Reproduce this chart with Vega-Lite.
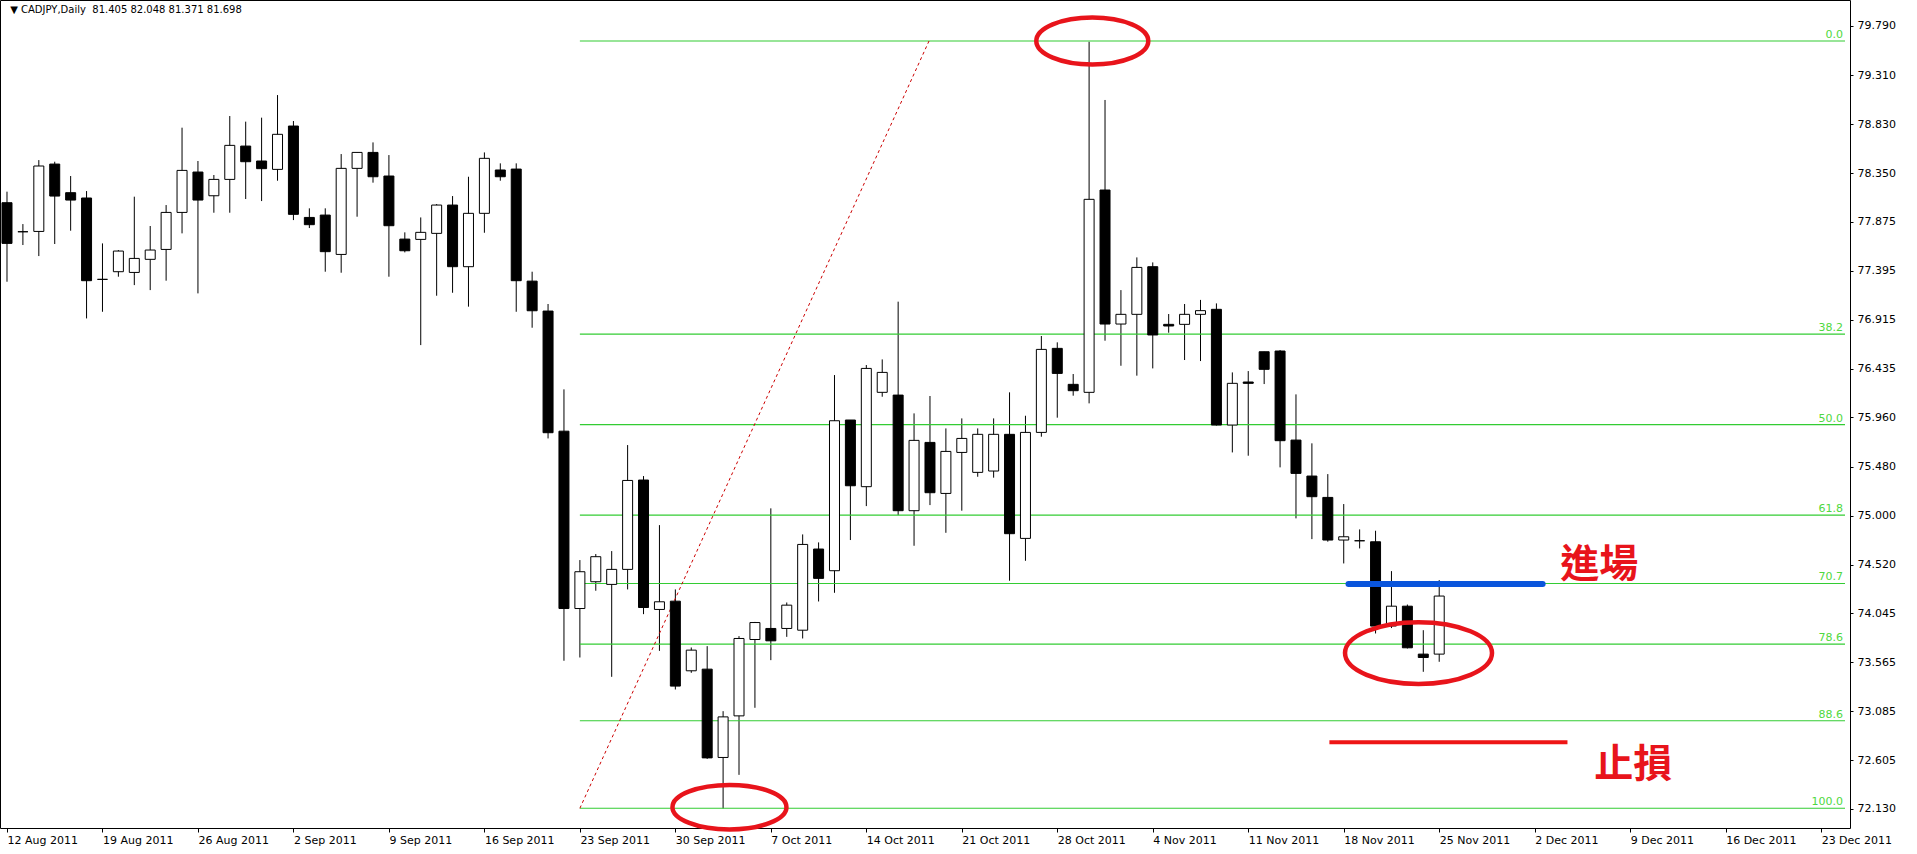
{
  "$schema": "https://vega.github.io/schema/vega-lite/v6.json",
  "width": 1850,
  "height": 828,
  "autosize": {"type": "none"},
  "padding": {"left": 0, "top": 0, "right": 67, "bottom": 26},
  "background": "white",
  "config": {
    "view": {"stroke": "black", "strokeWidth": 1},
    "font": "DejaVu Sans",
    "axis": {"grid": false, "domain": false, "tickColor": "black", "labelColor": "black", "labelFont": "DejaVu Sans", "labelFontSize": 11, "labelOverlap": false, "labelFlush": false}
  },
  "datasets": {
    "candles": [
      {"d":"2011-08-12","o":78.061,"h":78.169,"l":77.288,"c":77.663},
      {"d":"2011-08-14","o":77.777,"h":77.852,"l":77.647,"c":77.777},
      {"d":"2011-08-15","o":77.780,"h":78.478,"l":77.539,"c":78.420},
      {"d":"2011-08-16","o":78.439,"h":78.462,"l":77.657,"c":78.126},
      {"d":"2011-08-17","o":78.159,"h":78.322,"l":77.787,"c":78.087},
      {"d":"2011-08-18","o":78.107,"h":78.175,"l":76.929,"c":77.298},
      {"d":"2011-08-19","o":77.311,"h":77.663,"l":76.994,"c":77.311},
      {"d":"2011-08-21","o":77.386,"h":77.598,"l":77.337,"c":77.588},
      {"d":"2011-08-22","o":77.379,"h":78.120,"l":77.255,"c":77.516},
      {"d":"2011-08-23","o":77.507,"h":77.833,"l":77.206,"c":77.598},
      {"d":"2011-08-24","o":77.604,"h":78.038,"l":77.298,"c":77.966},
      {"d":"2011-08-25","o":77.966,"h":78.795,"l":77.761,"c":78.377},
      {"d":"2011-08-26","o":78.361,"h":78.469,"l":77.174,"c":78.087},
      {"d":"2011-08-28","o":78.129,"h":78.332,"l":77.963,"c":78.289},
      {"d":"2011-08-29","o":78.289,"h":78.909,"l":77.963,"c":78.622},
      {"d":"2011-08-30","o":78.615,"h":78.854,"l":78.097,"c":78.462},
      {"d":"2011-08-31","o":78.469,"h":78.893,"l":78.077,"c":78.394},
      {"d":"2011-09-01","o":78.387,"h":79.114,"l":78.276,"c":78.730},
      {"d":"2011-09-02","o":78.811,"h":78.860,"l":77.891,"c":77.947},
      {"d":"2011-09-04","o":77.917,"h":78.006,"l":77.813,"c":77.846},
      {"d":"2011-09-05","o":77.940,"h":78.006,"l":77.386,"c":77.582},
      {"d":"2011-09-06","o":77.555,"h":78.537,"l":77.376,"c":78.397},
      {"d":"2011-09-07","o":78.397,"h":78.553,"l":77.924,"c":78.553},
      {"d":"2011-09-08","o":78.553,"h":78.651,"l":78.257,"c":78.315},
      {"d":"2011-09-09","o":78.322,"h":78.527,"l":77.337,"c":77.836},
      {"d":"2011-09-11","o":77.705,"h":77.771,"l":77.575,"c":77.591},
      {"d":"2011-09-12","o":77.702,"h":77.917,"l":76.668,"c":77.771},
      {"d":"2011-09-13","o":77.761,"h":78.048,"l":77.151,"c":78.038},
      {"d":"2011-09-14","o":78.038,"h":78.126,"l":77.180,"c":77.435},
      {"d":"2011-09-15","o":77.435,"h":78.315,"l":77.044,"c":77.957},
      {"d":"2011-09-16","o":77.957,"h":78.553,"l":77.767,"c":78.495},
      {"d":"2011-09-18","o":78.381,"h":78.446,"l":78.276,"c":78.315},
      {"d":"2011-09-19","o":78.390,"h":78.446,"l":76.994,"c":77.298},
      {"d":"2011-09-20","o":77.294,"h":77.386,"l":76.838,"c":77.004},
      {"d":"2011-09-21","o":77.001,"h":77.070,"l":75.755,"c":75.811},
      {"d":"2011-09-22","o":75.826,"h":76.235,"l":73.580,"c":74.091},
      {"d":"2011-09-23","o":74.091,"h":74.565,"l":73.612,"c":74.451},
      {"d":"2011-09-25","o":74.353,"h":74.624,"l":74.265,"c":74.598},
      {"d":"2011-09-26","o":74.327,"h":74.653,"l":73.423,"c":74.474},
      {"d":"2011-09-27","o":74.474,"h":75.690,"l":74.278,"c":75.344},
      {"d":"2011-09-28","o":75.348,"h":75.387,"l":74.036,"c":74.101},
      {"d":"2011-09-29","o":74.082,"h":74.907,"l":73.677,"c":74.157},
      {"d":"2011-09-30","o":74.163,"h":74.278,"l":73.299,"c":73.332},
      {"d":"2011-10-02","o":73.482,"h":73.710,"l":73.462,"c":73.684},
      {"d":"2011-10-03","o":73.498,"h":73.723,"l":72.620,"c":72.630},
      {"d":"2011-10-04","o":72.634,"h":73.087,"l":72.135,"c":73.031},
      {"d":"2011-10-05","o":73.041,"h":73.821,"l":72.464,"c":73.798},
      {"d":"2011-10-06","o":73.788,"h":73.960,"l":73.120,"c":73.954},
      {"d":"2011-10-07","o":73.896,"h":75.071,"l":73.586,"c":73.775},
      {"d":"2011-10-09","o":73.896,"h":74.150,"l":73.814,"c":74.124},
      {"d":"2011-10-10","o":73.879,"h":74.816,"l":73.798,"c":74.718},
      {"d":"2011-10-11","o":74.673,"h":74.738,"l":74.160,"c":74.386},
      {"d":"2011-10-12","o":74.461,"h":76.375,"l":74.245,"c":75.928},
      {"d":"2011-10-13","o":75.935,"h":75.935,"l":74.761,"c":75.292},
      {"d":"2011-10-14","o":75.283,"h":76.473,"l":75.093,"c":76.440},
      {"d":"2011-10-16","o":76.206,"h":76.528,"l":76.163,"c":76.401},
      {"d":"2011-10-17","o":76.179,"h":77.093,"l":75.005,"c":75.048},
      {"d":"2011-10-18","o":75.048,"h":76.000,"l":74.705,"c":75.736},
      {"d":"2011-10-19","o":75.716,"h":76.170,"l":75.103,"c":75.224},
      {"d":"2011-10-20","o":75.217,"h":75.853,"l":74.832,"c":75.628},
      {"d":"2011-10-21","o":75.618,"h":75.951,"l":75.048,"c":75.755},
      {"d":"2011-10-23","o":75.423,"h":75.853,"l":75.380,"c":75.795},
      {"d":"2011-10-24","o":75.436,"h":75.951,"l":75.371,"c":75.795},
      {"d":"2011-10-25","o":75.795,"h":76.206,"l":74.363,"c":74.823},
      {"d":"2011-10-26","o":74.777,"h":75.977,"l":74.558,"c":75.814},
      {"d":"2011-10-27","o":75.814,"h":76.757,"l":75.772,"c":76.626},
      {"d":"2011-10-28","o":76.636,"h":76.695,"l":75.958,"c":76.391},
      {"d":"2011-10-30","o":76.284,"h":76.385,"l":76.173,"c":76.222},
      {"d":"2011-10-31","o":76.206,"h":79.636,"l":76.098,"c":78.094},
      {"d":"2011-11-01","o":78.185,"h":79.066,"l":76.711,"c":76.874},
      {"d":"2011-11-02","o":76.874,"h":77.206,"l":76.466,"c":76.969},
      {"d":"2011-11-03","o":76.969,"h":77.526,"l":76.369,"c":77.428},
      {"d":"2011-11-04","o":77.435,"h":77.477,"l":76.440,"c":76.767},
      {"d":"2011-11-06","o":76.871,"h":76.972,"l":76.789,"c":76.855},
      {"d":"2011-11-07","o":76.871,"h":77.070,"l":76.522,"c":76.969},
      {"d":"2011-11-08","o":76.969,"h":77.110,"l":76.512,"c":77.005},
      {"d":"2011-11-09","o":77.018,"h":77.076,"l":75.880,"c":75.886},
      {"d":"2011-11-10","o":75.886,"h":76.401,"l":75.618,"c":76.294},
      {"d":"2011-11-11","o":76.307,"h":76.414,"l":75.586,"c":76.294},
      {"d":"2011-11-13","o":76.603,"h":76.603,"l":76.287,"c":76.431},
      {"d":"2011-11-14","o":76.610,"h":76.620,"l":75.472,"c":75.733},
      {"d":"2011-11-15","o":75.739,"h":76.186,"l":74.973,"c":75.413},
      {"d":"2011-11-16","o":75.387,"h":75.707,"l":74.770,"c":75.185},
      {"d":"2011-11-17","o":75.178,"h":75.406,"l":74.745,"c":74.761},
      {"d":"2011-11-18","o":74.761,"h":75.113,"l":74.532,"c":74.793},
      {"d":"2011-11-20","o":74.754,"h":74.865,"l":74.679,"c":74.754},
      {"d":"2011-11-21","o":74.744,"h":74.852,"l":73.847,"c":73.919},
      {"d":"2011-11-22","o":73.920,"h":74.457,"l":73.900,"c":74.114},
      {"d":"2011-11-23","o":74.114,"h":74.130,"l":73.700,"c":73.707},
      {"d":"2011-11-24","o":73.645,"h":73.879,"l":73.472,"c":73.612},
      {"d":"2011-11-25","o":73.645,"h":74.369,"l":73.570,"c":74.213}
    ],
    "fib": [
      {"lvl":"0.0","p":79.643},
      {"lvl":"38.2","p":76.776},
      {"lvl":"50.0","p":75.890},
      {"lvl":"61.8","p":75.004},
      {"lvl":"70.7","p":74.336},
      {"lvl":"78.6","p":73.743},
      {"lvl":"88.6","p":72.993},
      {"lvl":"100.0","p":72.137}
    ]
  },
  "layer": [
    {
      "data": {"name": "candles"},
      "transform": [{"window": [{"op": "row_number", "as": "n"}], "sort": [{"field": "d"}]}],
      "mark": {"type": "rule", "color": "black", "strokeWidth": 1, "clip": true},
      "encoding": {
        "x": {
          "field": "n", "type": "quantitative",
          "scale": {"domain": [0.875, 116.5], "nice": false, "zero": false},
          "axis": {
            "title": null, "orient": "bottom",
            "values": [1, 7, 13, 19, 25, 31, 37, 43, 49, 55, 61, 67, 73, 79, 85, 91, 97, 103, 109, 115],
            "labelExpr": "['12 Aug 2011','19 Aug 2011','26 Aug 2011','2 Sep 2011','9 Sep 2011','16 Sep 2011','23 Sep 2011','30 Sep 2011','7 Oct 2011','14 Oct 2011','21 Oct 2011','28 Oct 2011','4 Nov 2011','11 Nov 2011','18 Nov 2011','25 Nov 2011','2 Dec 2011','9 Dec 2011','16 Dec 2011','23 Dec 2011'][round((datum.value-1)/6)]",
            "tickSize": 4, "labelAlign": "left", "labelPadding": 2, "labelBound": false
          }
        },
        "y": {
          "field": "l", "type": "quantitative",
          "scale": {"domain": [71.944, 80.044], "nice": false, "zero": false},
          "axis": {
            "title": null, "orient": "right",
            "values": [72.13, 72.605, 73.085, 73.565, 74.045, 74.52, 75.0, 75.48, 75.96, 76.435, 76.915, 77.395, 77.875, 78.35, 78.83, 79.31, 79.79],
            "format": ".3f", "tickSize": 3, "labelPadding": 4, "labelBaseline": "middle"
          }
        },
        "y2": {"field": "h"}
      }
    },
    {
      "data": {"name": "fib"},
      "mark": {"type": "rule", "color": "#33cc33", "strokeWidth": 1.2},
      "encoding": {
        "x": {"datum": 37, "type": "quantitative"},
        "x2": {"datum": 116.5},
        "y": {"field": "p", "type": "quantitative", "title": null}
      }
    },
    {
      "data": {"name": "fib"},
      "mark": {"type": "text", "color": "#4fd840", "fontSize": 11, "font": "DejaVu Sans", "align": "right", "baseline": "bottom", "dx": -2, "dy": -1},
      "encoding": {
        "x": {"datum": 116.5, "type": "quantitative"},
        "y": {"field": "p", "type": "quantitative", "title": null},
        "text": {"field": "lvl"}
      }
    },
    {
      "data": {"values": [{}]},
      "mark": {"type": "rule", "color": "#cc0000", "strokeWidth": 1, "strokeDash": [3, 3]},
      "encoding": {
        "x": {"datum": 37, "type": "quantitative"},
        "y": {"datum": 72.137, "type": "quantitative"},
        "x2": {"datum": 58.94},
        "y2": {"datum": 79.643}
      }
    },
    {
      "data": {"name": "candles"},
      "transform": [{"window": [{"op": "row_number", "as": "n"}], "sort": [{"field": "d"}]}],
      "mark": {"type": "bar", "width": 10, "stroke": "black", "strokeWidth": 1, "clip": true},
      "encoding": {
        "x": {"field": "n", "type": "quantitative", "title": null},
        "y": {"field": "o", "type": "quantitative", "title": null},
        "y2": {"field": "c"},
        "fill": {"condition": {"test": "datum.c > datum.o", "value": "white"}, "value": "black"}
      }
    },
    {
      "data": {"values": [{}]},
      "mark": {"type": "rule", "color": "#0a55dc", "strokeWidth": 6, "strokeCap": "round"},
      "encoding": {
        "x": {"datum": 85.3, "type": "quantitative"},
        "x2": {"datum": 97.5},
        "y": {"datum": 74.33, "type": "quantitative"}
      }
    },
    {
      "data": {"values": [{}]},
      "mark": {"type": "rule", "color": "#ee1515", "strokeWidth": 4},
      "encoding": {
        "x": {"datum": 84.1, "type": "quantitative"},
        "x2": {"datum": 99.06},
        "y": {"datum": 72.784, "type": "quantitative"}
      }
    },
    {
      "data": {"values": [{}]},
      "mark": {"type": "point", "filled": false, "color": "#e8141b", "strokeWidth": 4.5, "opacity": 1, "size": 12544,
        "shape": "M-1,0C-1,-0.232,-0.552,-0.42,0,-0.42C0.552,-0.42,1,-0.232,1,0C1,0.232,0.552,0.42,0,0.42C-0.552,0.42,-1,0.232,-1,0Z"},
      "encoding": {
        "x": {"datum": 69.2, "type": "quantitative"},
        "y": {"datum": 79.643, "type": "quantitative"}
      }
    },
    {
      "data": {"values": [{}]},
      "mark": {"type": "point", "filled": false, "color": "#e8141b", "strokeWidth": 4.5, "opacity": 1, "size": 12996,
        "shape": "M-1,0C-1,-0.215,-0.552,-0.39,0,-0.39C0.552,-0.39,1,-0.215,1,0C1,0.215,0.552,0.39,0,0.39C-0.552,0.39,-1,0.215,-1,0Z"},
      "encoding": {
        "x": {"datum": 46.4, "type": "quantitative"},
        "y": {"datum": 72.148, "type": "quantitative"}
      }
    },
    {
      "data": {"values": [{}]},
      "mark": {"type": "point", "filled": false, "color": "#e8141b", "strokeWidth": 4.5, "opacity": 1, "size": 21609,
        "shape": "M-1,0C-1,-0.232,-0.552,-0.42,0,-0.42C0.552,-0.42,1,-0.232,1,0C1,0.232,0.552,0.42,0,0.42C-0.552,0.42,-1,0.232,-1,0Z"},
      "encoding": {
        "x": {"datum": 89.7, "type": "quantitative"},
        "y": {"datum": 73.655, "type": "quantitative"}
      }
    },
    {
      "data": {"values": [{"t": "進場", "n": 101.06, "p": 74.516}, {"t": "止損", "n": 103.2, "p": 72.559}]},
      "mark": {"type": "text", "font": "Noto Sans CJK TC", "fontWeight": "bold", "fontSize": 39, "color": "#e8141b", "align": "center", "baseline": "middle"},
      "encoding": {
        "x": {"field": "n", "type": "quantitative", "title": null},
        "y": {"field": "p", "type": "quantitative", "title": null},
        "text": {"field": "t"}
      }
    },
    {
      "data": {"values": [{"t": "▼ CADJPY,Daily\u00a0 81.405 82.048 81.371 81.698"}]},
      "mark": {"type": "text", "font": "DejaVu Sans", "fontSize": 10, "color": "black", "align": "left", "baseline": "middle"},
      "encoding": {
        "x": {"datum": 1.2, "type": "quantitative"},
        "y": {"datum": 79.946, "type": "quantitative"},
        "text": {"field": "t"}
      }
    }
  ]
}
